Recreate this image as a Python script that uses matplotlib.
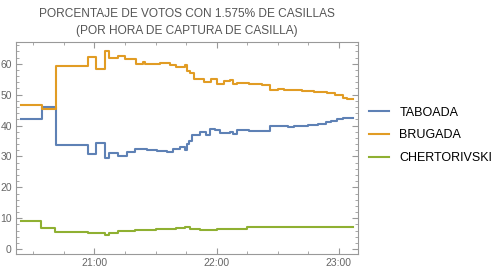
import matplotlib
matplotlib.use("Agg")
import matplotlib.pyplot as plt
from matplotlib.ticker import MultipleLocator, FuncFormatter

plt.rcParams['font.family'] = ['Liberation Sans', 'DejaVu Sans']

# minutes after 20:00, step values (%)
t_taboada = [24, 34.2, 40.9, 56.8, 60.7, 65.2, 66.9, 71.8, 75.9, 80, 85.7, 90.6, 95.5, 98.7,
             102, 104.5, 105.3, 106.5, 107.7, 111.8, 115, 116.7, 119, 121.6, 126.5, 128.2,
             129.8, 136, 142.1, 146.1, 150, 155, 158, 160, 165, 170, 173.9, 176, 179, 182, 186.7]
v_taboada = [42, 46, 33.8, 30.8, 34.4, 29.5, 31, 30.2, 31.3, 32.5, 32.2, 31.8, 31.5, 32.5,
             33, 32, 34, 35, 37, 38, 37, 39, 38.5, 37.5, 38, 37.2,
             38.4, 38.1, 38.3, 40, 39.8, 39.5, 39.9, 40, 40.3, 40.6, 41, 41.5, 42.2, 42.5, 42.3]

t_brugada = [24, 34.2, 40.9, 56.8, 60.7, 65.2, 66.9, 71.8, 75, 80.6, 84, 85, 92.2, 97, 100,
             104.5, 105.3, 107, 109, 113.8, 117, 120, 123.5, 126.5, 128.2, 130, 136, 142.1, 146.1,
             150, 153, 156, 162, 168, 174, 178, 182, 184, 186.7]
v_brugada = [46.8, 45.3, 59.2, 62.2, 58.4, 64.2, 61.9, 62.5, 61.5, 60, 60.6, 59.8, 60.2, 59.5, 59,
             59.5, 57.5, 57, 55, 54, 55, 53.5, 54.5, 54.8, 53.5, 53.8, 53.5, 53.2, 51.4,
             51.8, 51.4, 51.6, 51.2, 51, 50.6, 49.8, 49, 48.6, 48.6]

t_chert = [24, 33.9, 40.7, 57, 65, 67, 71.8, 80, 90, 100, 104.5, 107, 112, 120, 126, 135,
           141, 150, 160, 170, 180, 186.7]
v_chert = [9.2, 6.7, 5.4, 5.2, 4.5, 5.2, 6.0, 6.2, 6.5, 6.8, 7.0, 6.5, 6.3, 6.4, 6.5, 7.0,
           7.3, 7.2, 7.1, 7.0, 7.1, 7.1]

names = ['TABOADA', 'BRUGADA', 'CHERTORIVSKI']
colors = ['#5E81B5', '#E19C24', '#8FB032']

fig = plt.figure(figsize=(5.01, 2.70), dpi=100)
ax = fig.add_axes([0.032, 0.059, 0.683, 0.785])

for t, v, name, c in zip([t_taboada, t_brugada, t_chert], [v_taboada, v_brugada, v_chert], names, colors):
    ax.plot(t, v, drawstyle='steps-post', color=c, lw=1.5, label=name)

ax.set_xlim(21.5, 189.5)
ax.set_ylim(-1.6, 67)
ax.xaxis.set_major_locator(MultipleLocator(60))
ax.xaxis.set_minor_locator(MultipleLocator(15))
ax.yaxis.set_major_locator(MultipleLocator(10))
ax.yaxis.set_minor_locator(MultipleLocator(2))
ax.xaxis.set_major_formatter(FuncFormatter(lambda x, p: f"{20 + int(x // 60)}:{int(x % 60):02d}"))

for s in ax.spines.values():
    s.set_color('#999999')
ax.tick_params(which='both', direction='in', top=True, right=True, color='#999999',
               labelcolor='#666666', labelsize=7.5, pad=3)
ax.tick_params(which='major', length=4)
ax.tick_params(which='minor', length=2.5)

ax.set_title('PORCENTAJE DE VOTOS CON 1.575% DE CASILLAS\n(POR HORA DE CAPTURA DE CASILLA)',
             color='#555555', fontsize=8.6, linespacing=1.55, pad=6)

ax.legend(loc='center left', bbox_to_anchor=(1.0, 0.56), frameon=False, fontsize=9,
          handlelength=1.6, labelspacing=0.85)

fig.savefig('out.png', dpi=100)
